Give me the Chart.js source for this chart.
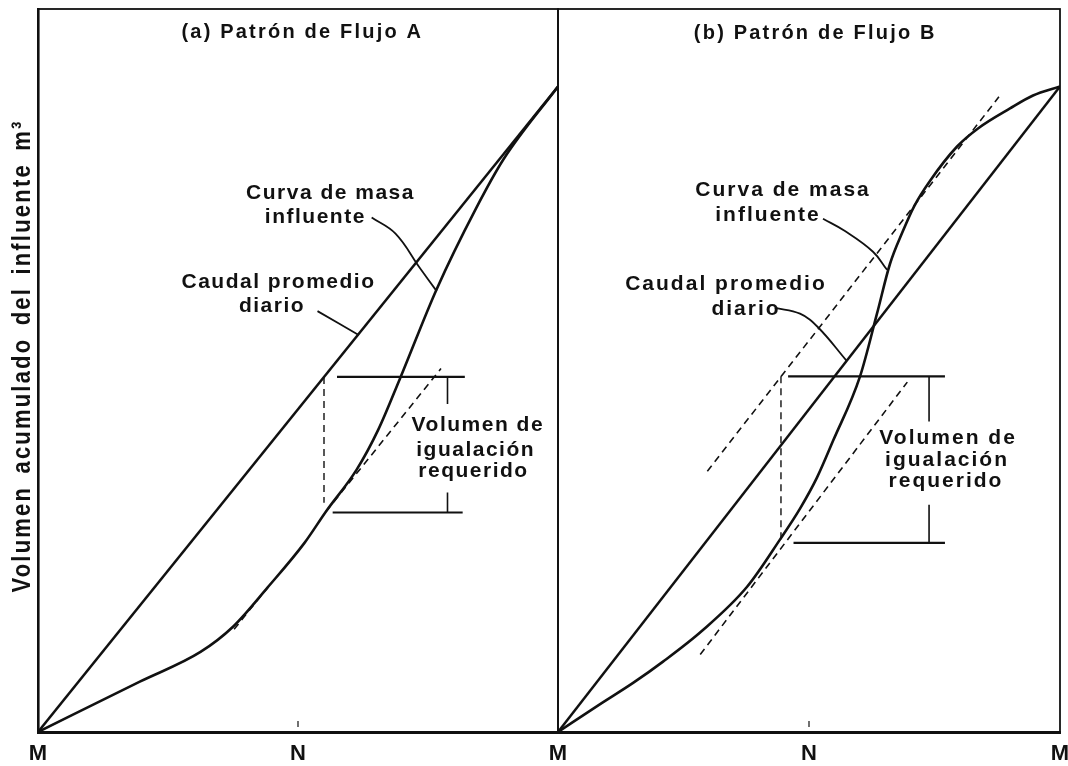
<!DOCTYPE html>
<html>
<head>
<meta charset="utf-8">
<script src="https://cdn.jsdelivr.net/npm/chart.js@4.4.0/dist/chart.umd.min.js"></script>
<style>
  html, body { margin: 0; padding: 0; background: #fff; }
  #wrap { position: relative; width: 1068px; height: 766px; overflow: hidden; }
  #wrap canvas { position: absolute; left: 0; top: 0; }
</style>
</head>
<body>
<div id="wrap">
  <canvas id="chartA" width="1068" height="766"></canvas>
  <canvas id="chartB" width="1068" height="766"></canvas>
</div>
<script>
// x = hora del día (M = medianoche, N = mediodía), y = volumen acumulado (% del total diario)
var xTicks = [0, 12, 24];
var xLabelsA = ['M', 'N', 'M'];
var xLabelsB = ['', 'N', 'M'];

// (a) Patrón de Flujo A
var averageA = [[0, 0], [24, 100]];
var massA = [[0, 0], [4.7, 7.8], [7.5, 12.4], [9.0, 16.3], [10.6, 22.4], [12.3, 29.3],
  [13.3, 34.2], [14.7, 40.6], [15.7, 46.8], [16.7, 54.7], [18.4, 68.6], [20.2, 81.0],
  [21.5, 88.8], [24, 100]];
var tangentA = [[[13.3, 34.2], [18.6, 56.3]], [[9.05, 15.9], [10.6, 22.4]]];
var levelsA = [[[13.8, 55.0], [19.7, 55.0]], [[13.6, 34.0], [19.6, 34.0]]];
var dropA = [[13.2, 55.0], [13.2, 35.5]];
var spanA = [[[18.9, 55.0], [18.9, 50.8]], [[18.9, 37.1], [18.9, 34.0]]];
var leadersA = [[[15.4, 79.7], [16.5, 77.2], [17.6, 72.0], [18.4, 68.3]],
  [[12.9, 65.2], [14.8, 61.5]]];

// (b) Patrón de Flujo B
var averageB = [[0, 0], [24, 100]];
var massB = [[0, 0], [1.96, 4.2], [3.59, 7.6], [5.02, 10.9], [6.93, 15.8], [9.04, 22.5],
  [10.61, 29.8], [11.57, 34.6], [12.38, 39.4], [13.15, 45.1], [14.44, 55.1], [15.25, 64.8],
  [15.87, 72.5], [16.49, 77.6], [17.02, 81.4], [17.79, 85.4], [19.08, 90.7], [20.08, 93.5],
  [21.61, 96.6], [22.71, 98.6], [24, 100]];
var tangentB = [[[7.14, 40.4], [21.08, 98.4]], [[6.8, 12.0], [16.7, 54.2]]];
var levelsB = [[[11.0, 55.1], [18.5, 55.1]], [[11.26, 29.3], [18.5, 29.3]]];
var dropB = [[10.66, 55.1], [10.66, 29.8]];
var spanB = [[[17.74, 55.1], [17.74, 48.1]], [[17.74, 35.2], [17.74, 29.3]]];
var leadersB = [[[12.67, 79.5], [13.72, 77.6], [15.06, 74.4], [15.73, 71.6]],
  [[10.37, 65.7], [11.57, 64.8], [12.43, 62.7], [13.8, 57.5]]];

var notesA = [
  { text: '(a) Patrón de Flujo A', x: 12.2, y: 108.3, title: true },
  { text: 'Curva de masa', x: 13.5, y: 83.4 },
  { text: 'influente', x: 12.8, y: 79.8 },
  { text: 'Caudal promedio', x: 11.1, y: 69.7 },
  { text: 'diario', x: 10.8, y: 66.0 },
  { text: 'Volumen de', x: 20.3, y: 47.5 },
  { text: 'igualación', x: 20.2, y: 43.6 },
  { text: 'requerido', x: 20.1, y: 40.4 }
];
var notesB = [
  { text: '(b) Patrón de Flujo B', x: 12.3, y: 108.2, title: true },
  { text: 'Curva de masa', x: 10.76, y: 84.0 },
  { text: 'influente', x: 10.04, y: 80.1 },
  { text: 'Caudal promedio', x: 8.03, y: 69.3 },
  { text: 'diario', x: 8.99, y: 65.5 },
  { text: 'Volumen de', x: 18.65, y: 45.5 },
  { text: 'igualación', x: 18.6, y: 42.1 },
  { text: 'requerido', x: 18.55, y: 38.8 }
];
var yTitle = 'Volumen acumulado del influente m³';

var INK = '#111';
var FAMILY = '"Liberation Sans", Arial, sans-serif';

function pts(arr) {
  return arr.map(function(p) { return { x: p[0], y: p[1] }; });
}
function solid(arr, w) {
  return { data: pts(arr), borderColor: INK, borderWidth: w || 2.5, pointRadius: 0, fill: false, tension: 0 };
}
function curve(arr) {
  var d = solid(arr, 2.6);
  d.cubicInterpolationMode = 'monotone';
  return d;
}
function leader(arr) {
  var d = solid(arr, 1.8);
  d.tension = 0.4;
  return d;
}
function dashed(arr, w) {
  var d = solid(arr, w || 1.6);
  d.borderDash = [7, 5];
  return d;
}

function panelSets(avg, mass, tangents, levels, drop, span, leaders) {
  var sets = [solid(avg, 2.5), curve(mass)];
  tangents.forEach(function(t) { sets.push(dashed(t)); });
  levels.forEach(function(l) { sets.push(solid(l, 2.2)); });
  sets.push(dashed(drop, 1.4));
  span.forEach(function(s) { sets.push(solid(s, 1.6)); });
  leaders.forEach(function(l) { sets.push(leader(l)); });
  return sets;
}

var scanPlugin = {
  id: 'scan',
  afterDatasetsDraw: function(chart, args, opts) {
    var ctx = chart.ctx, a = chart.chartArea;
    var xs = chart.scales.x, ys = chart.scales.y;
    ctx.save();
    ctx.strokeStyle = INK;
    ctx.lineWidth = 1.8;
    ctx.strokeRect(a.left, a.top, a.right - a.left, a.bottom - a.top);
    // small marks above the axis at noon
    ctx.lineWidth = 1.2;
    xs.ticks.forEach(function(t, i) {
      if (opts.labels[i] === 'N') {
        var px = xs.getPixelForValue(t.value);
        ctx.beginPath();
        ctx.moveTo(px, a.bottom - 11);
        ctx.lineTo(px, a.bottom - 5);
        ctx.stroke();
      }
    });
    ctx.fillStyle = INK;
    ctx.textAlign = 'center';
    ctx.textBaseline = 'middle';
    opts.notes.forEach(function(n) {
      ctx.font = n.title ? opts.titleFont : opts.font;
      ctx.letterSpacing = n.title ? opts.titleSpacing : opts.spacing;
      ctx.fillText(n.text, xs.getPixelForValue(n.x), ys.getPixelForValue(n.y));
    });
    if (opts.yTitle) {
      ctx.save();
      ctx.translate(a.left - 8, a.top + (a.bottom - a.top) * 0.48);
      ctx.rotate(-Math.PI / 2);
      ctx.scale(1, 1.2);
      ctx.font = 'bold 22px ' + FAMILY;
      ctx.letterSpacing = '2.2px';
      ctx.wordSpacing = '4px';
      ctx.textBaseline = 'alphabetic';
      ctx.fillText(opts.yTitle, 0, 0);
      ctx.restore();
    }
    ctx.letterSpacing = '0px';
    ctx.restore();
  }
};

function makeChart(id, sets, labels, notes, side) {
  var ctx = document.getElementById(id).getContext('2d');
  var first = side === 'A';
  return new Chart(ctx, {
    type: 'line',
    data: { datasets: sets },
    options: {
      responsive: false,
      animation: false,
      devicePixelRatio: 1,
      layout: { padding: first ? { left: 0, right: 510, top: 9, bottom: 0 } : { left: 558, right: 8, top: 9, bottom: 0 } },
      plugins: {
        legend: { display: false },
        tooltip: { enabled: false },
        scan: {
          labels: labels,
          notes: notes,
          font: 'bold 21px ' + FAMILY,
          spacing: first ? '1.5px' : '2px',
          titleFont: 'bold 20px ' + FAMILY,
          titleSpacing: '2.2px',
          yTitle: first ? yTitle : null
        }
      },
      scales: {
        x: {
          type: 'linear',
          min: 0,
          max: 24,
          grid: { display: false, drawTicks: false },
          border: { display: true, color: INK, width: 3 },
          ticks: {
            color: INK,
            padding: 9,
            maxRotation: 0,
            autoSkip: false,
            font: { family: FAMILY, size: 22, weight: 'bold' },
            callback: function(v) { return labels[xTicks.indexOf(v)]; }
          },
          afterBuildTicks: function(s) { s.ticks = xTicks.map(function(v) { return { value: v }; }); },
          afterFit: function(s) { s.height = 34; s.paddingLeft = 0; s.paddingRight = 0; }
        },
        y: {
          type: 'linear',
          min: 0,
          max: 112,
          display: first,
          grid: { display: false, drawTicks: false },
          border: { display: true, color: INK, width: 2.6 },
          ticks: { display: false },
          afterFit: function(s) { s.width = first ? 38 : 0; }
        }
      }
    },
    plugins: [scanPlugin]
  });
}

makeChart('chartA', panelSets(averageA, massA, tangentA, levelsA, dropA, spanA, leadersA), xLabelsA, notesA, 'A');
makeChart('chartB', panelSets(averageB, massB, tangentB, levelsB, dropB, spanB, leadersB), xLabelsB, notesB, 'B');
</script>
</body>
</html>
